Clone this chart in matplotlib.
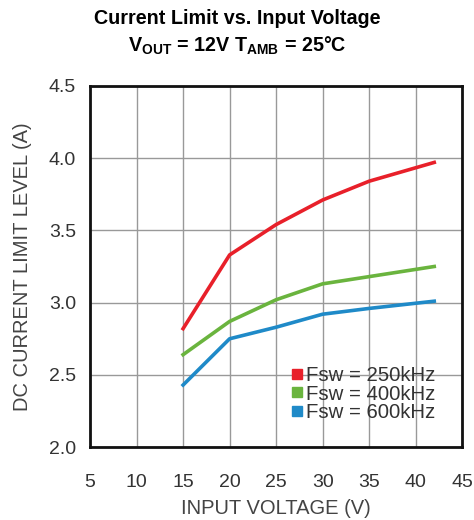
import numpy as np
import matplotlib
matplotlib.use("Agg")
import matplotlib.pyplot as plt
from matplotlib.lines import Line2D

plt.rcParams["font.family"] = ["Liberation Sans", "DejaVu Sans"]
plt.rcParams["mathtext.fontset"] = "custom"
plt.rcParams["mathtext.rm"] = "Liberation Sans"
plt.rcParams["mathtext.bf"] = "Liberation Sans:bold"

VIN = [15, 20, 25, 30, 35, 42]
I_250 = [2.82, 3.33, 3.54, 3.71, 3.84, 3.97]
I_400 = [2.64, 2.87, 3.02, 3.13, 3.18, 3.25]
I_600 = [2.43, 2.75, 2.83, 2.92, 2.96, 3.01]
LABELS = ["Fsw = 250kHz", "Fsw = 400kHz", "Fsw = 600kHz"]
COLORS = ["#e8202a", "#6ab43e", "#1f8ac8"]

fig = plt.figure(figsize=(4.74, 5.2), dpi=100)
ax = fig.add_axes([0.19, 0.140, 0.785, 0.695])

for ys, lab, col in zip([I_250, I_400, I_600], LABELS, COLORS):
    ax.plot(VIN, ys, color=col, lw=2.6)

ax.set_xlim(5, 45)
ax.set_ylim(2.0, 4.5)
ax.set_xticks(np.arange(5, 50, 5))
ax.set_yticks(np.arange(2.0, 4.6, 0.5))
ax.set_yticklabels([f"{v:.1f}" for v in np.arange(2.0, 4.6, 0.5)])
ax.grid(True, color="#999999", lw=1.0)
ax.tick_params(length=0, labelsize=14, labelcolor="#333333")
ax.tick_params(axis="x", pad=19)
ax.tick_params(axis="y", pad=10)
for s in ax.spines.values():
    s.set_linewidth(2.0)
    s.set_color("#111111")

ax.set_xlabel("INPUT VOLTAGE (V)", fontsize=14.5, color="#444444", labelpad=6)
ax.set_ylabel("DC CURRENT LIMIT LEVEL (A)", fontsize=14.5, color="#444444", labelpad=12)

handles = [Line2D([], [], ls="none", marker="s", ms=6.5, color=c) for c in COLORS]
leg = ax.legend(handles, LABELS, loc="upper left", bbox_to_anchor=(0.54, 0.224),
                frameon=False, handlelength=0.6, handletextpad=0.15,
                labelspacing=-0.03, fontsize=14.7, borderaxespad=0, borderpad=0)
for t in leg.get_texts():
    t.set_color("#333333")

fig.text(0.5, 0.965, "Current Limit vs. Input Voltage", ha="center", va="center",
         fontsize=14.2, fontweight="bold")
fig.text(0.5, 0.912, r"$\mathbf{V_{OUT}}$ = 12V $\mathbf{T_{AMB}}$ = 25°C", ha="center",
         va="center", fontsize=14.2, fontweight="bold")

fig.savefig("out.png", dpi=100)
